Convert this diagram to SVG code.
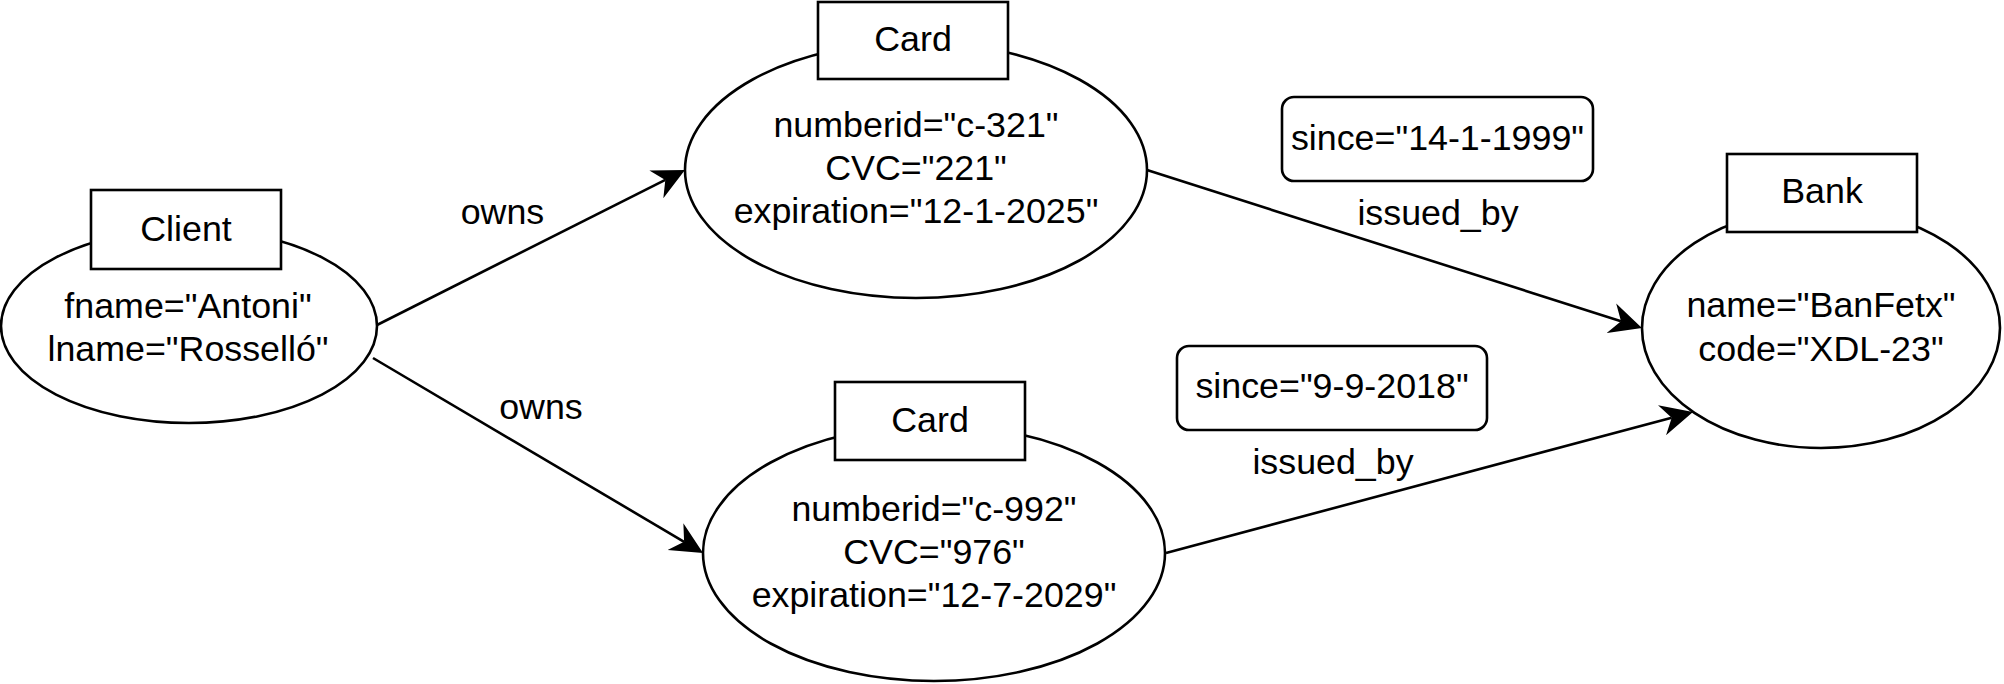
<svg xmlns="http://www.w3.org/2000/svg" width="2004" height="684" viewBox="0 0 2004 684">
  <style>
    .shape { fill: #ffffff; stroke: #000000; stroke-width: 2.6; }
    .edge { fill: none; stroke: #000000; stroke-width: 2.6; }
    text { font-family: "Liberation Sans", Arial, sans-serif; font-size: 35.8px; fill: #000000; text-anchor: middle; }
  </style>
  <defs>
    <marker id="arrow" viewBox="0 -16 34 32" refX="10" refY="0" markerWidth="34" markerHeight="32" markerUnits="userSpaceOnUse" orient="auto">
      <path d="M32,0 L0,-15.5 L10,0 L0,15.5 Z" fill="#000000" stroke="none"/>
    </marker>
  </defs>
  <rect width="2004" height="684" fill="#ffffff"/>

  <g id="connectors">
    <line class="edge" x1="377" y1="325" x2="665.3" y2="179.9" marker-end="url(#arrow)"/>
    <line class="edge" x1="373" y1="358" x2="684.1" y2="541.8" marker-end="url(#arrow)"/>
    <line class="edge" x1="1147" y1="170" x2="1621" y2="321.3" marker-end="url(#arrow)"/>
    <line class="edge" x1="1166" y1="553" x2="1671.7" y2="417.7" marker-end="url(#arrow)"/>
    <text x="502.5" y="224">owns</text>
    <text x="541" y="419">owns</text>
    <text x="1438" y="225">issued_by</text>
    <text x="1333" y="474">issued_by</text>
  </g>

  <g id="client">
    <ellipse class="shape" cx="189" cy="326" rx="188" ry="97"/>
    <rect class="shape" x="91" y="190" width="190" height="79"/>
    <text x="186" y="241">Client</text>
    <text x="188" y="318">fname="Antoni"</text>
    <text x="188" y="361">lname="Rosselló"</text>
  </g>

  <g id="card1">
    <ellipse class="shape" cx="916" cy="170" rx="231" ry="128"/>
    <rect class="shape" x="818" y="2" width="190" height="77"/>
    <text x="913" y="51">Card</text>
    <text x="916" y="137">numberid="c-321"</text>
    <text x="916" y="180">CVC="221"</text>
    <text x="916" y="223">expiration="12-1-2025"</text>
  </g>

  <g id="card2">
    <ellipse class="shape" cx="934" cy="553" rx="231" ry="128"/>
    <rect class="shape" x="835" y="382" width="190" height="78"/>
    <text x="930" y="432">Card</text>
    <text x="934" y="521">numberid="c-992"</text>
    <text x="934" y="564">CVC="976"</text>
    <text x="934" y="607">expiration="12-7-2029"</text>
  </g>

  <g id="bank">
    <ellipse class="shape" cx="1821" cy="328" rx="179" ry="120"/>
    <rect class="shape" x="1727" y="154" width="190" height="78"/>
    <text x="1822" y="203">Bank</text>
    <text x="1821" y="317">name="BanFetx"</text>
    <text x="1821" y="361">code="XDL-23"</text>
  </g>

  <g id="since1">
    <rect class="shape" x="1282" y="97" width="311" height="84" rx="12" ry="12"/>
    <text x="1437.5" y="150">since="14-1-1999"</text>
  </g>

  <g id="since2">
    <rect class="shape" x="1177" y="346" width="310" height="84" rx="12" ry="12"/>
    <text x="1332" y="398">since="9-9-2018"</text>
  </g>
</svg>
